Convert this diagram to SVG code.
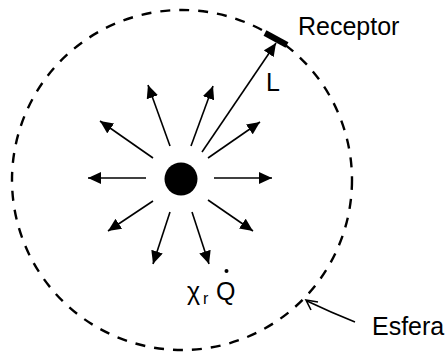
<svg xmlns="http://www.w3.org/2000/svg" width="447" height="354" viewBox="0 0 447 354">
<style>
  .txt { font-family: "Liberation Sans", Arial, sans-serif; font-size: 25px; fill: #000; }
  .ray { stroke: #000; stroke-width: 1.6; fill: none; marker-end: url(#head); }
</style>
<defs>
  <marker id="head" markerUnits="userSpaceOnUse" markerWidth="14" markerHeight="12" refX="13" refY="6" orient="auto">
    <path d="M0,0 L13,6 L0,12 z" fill="#000"/>
  </marker>
</defs>
<rect width="447" height="354" fill="#fff"/>
<g id="esfera">
  <circle cx="182" cy="180" r="170" fill="none" stroke="#000" stroke-width="2.4" stroke-dasharray="10 9"/>
</g>
<g id="fuente">
  <circle cx="181" cy="179" r="16.5" fill="#000"/>
</g>
<g id="receptor">
  <line x1="265" y1="33" x2="287" y2="45" stroke="#000" stroke-width="6"/>
  <text class="txt" x="298" y="35">Receptor</text>
</g>
<g id="connectors">
  <line class="ray" x1="202" y1="152" x2="276" y2="43"/>
  <line class="ray" x1="170" y1="146" x2="148" y2="85"/>
  <line class="ray" x1="191" y1="146" x2="213" y2="86"/>
  <line class="ray" x1="153" y1="158" x2="100" y2="121"/>
  <line class="ray" x1="208" y1="158" x2="260" y2="122"/>
  <line class="ray" x1="146" y1="178" x2="88" y2="178"/>
  <line class="ray" x1="214" y1="178" x2="272" y2="178"/>
  <line class="ray" x1="153" y1="201" x2="108" y2="231"/>
  <line class="ray" x1="208" y1="200" x2="253" y2="231"/>
  <line class="ray" x1="170" y1="212" x2="153" y2="264"/>
  <line class="ray" x1="192" y1="212" x2="209" y2="264"/>
  <path d="M355,322 Q330,312 307,301" stroke="#000" stroke-width="1.6" fill="none"/>
  <path d="M318,302 L306,300 L311,310" stroke="#000" stroke-width="1.6" fill="none"/>
</g>
<g id="labels">
  <text class="txt" x="266" y="91">L</text>
  <text class="txt" x="187" y="300">χ</text>
  <text class="txt" x="203" y="304" style="font-size:16px">r</text>
  <text class="txt" x="216" y="300">Q</text>
  <circle cx="226.5" cy="271" r="2" fill="#000"/>
  <text class="txt" x="372" y="335">Esfera</text>
</g>
</svg>
